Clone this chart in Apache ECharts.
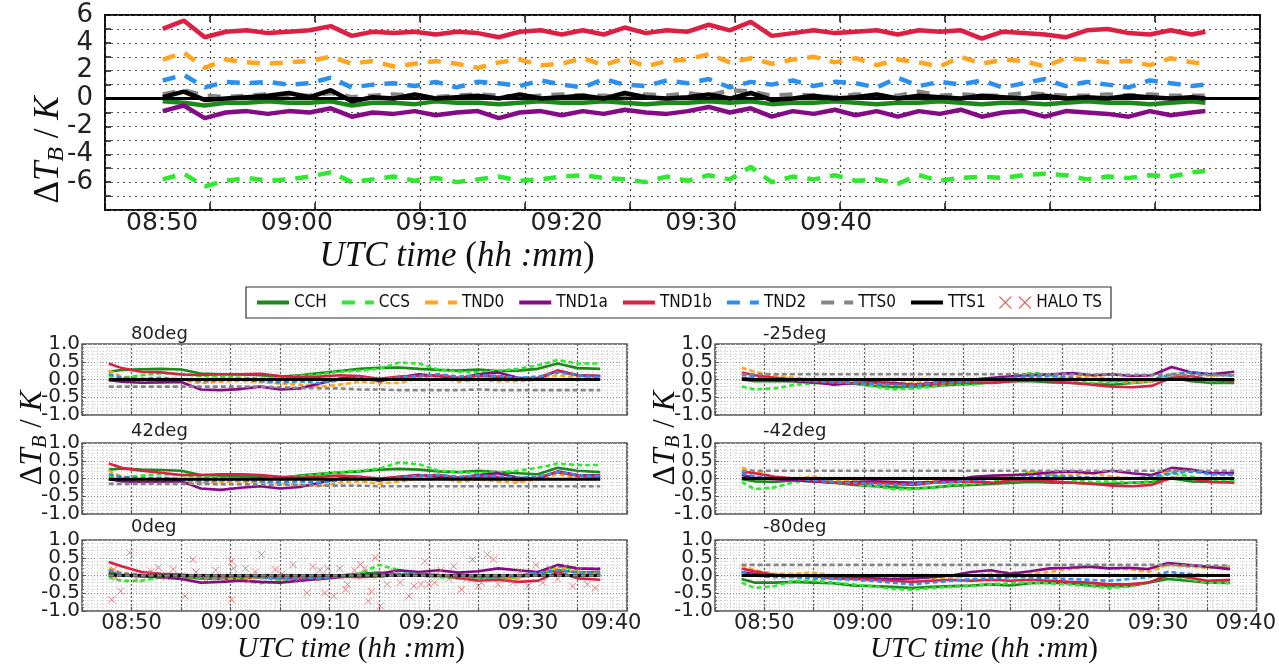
<!DOCTYPE html>
<html><head><meta charset="utf-8">
<script src="https://cdn.jsdelivr.net/npm/echarts@6/dist/echarts.min.js"></script>
<style>html,body{margin:0;padding:0;background:#fff}#c{width:1279px;height:668px}</style>
</head><body><div id="c"></div><script>
// ---------- DATA ----------
const NAMES = ['CCH','CCS','TND0','TND1a','TND1b','TND2','TTS0','TTS1'];
const TOP_LABELS = ['08:50','09:00','09:10','09:20','09:30','09:40'];
const LOW_LABELS = ['08:50','09:00','09:10','09:20','09:30','09:40'];
const PANEL_TITLES = ['80deg','42deg','0deg','-25deg','-42deg','-80deg'];

// top panel (minutes on tick axis)
const topTime = [5.5,7.5,9.5,11.5,13.5,15.5,17.5,19.5,21.5,23.5,25.5,27.5,29.5,31.5,33.5,35.5,37.5,39.5,41.5,43.5,45.5,47.5,49.5,51.5,53.5,55.5,57.5,59.5,61.5,63.5,65.5,67.5,69.5,71.5,73.5,75.5,77.5,79.5,81.5,83.5,85.5,87.5,89.5,91.5,93.5,95.5,97.5,99.5,101.5,103.5,104.8];
const top_CCH = [-0.2,-0.3,-0.5,-0.3,-0.3,-0.2,-0.3,-0.3,-0.2,-0.5, -0.3,-0.3,-0.4,-0.2,-0.3,-0.3,-0.4,-0.3,-0.2,-0.3, -0.3,-0.2,-0.3,-0.4,-0.3,-0.3,-0.2,-0.3,-0.2,-0.4, -0.3,-0.3,-0.2,-0.3,-0.4,-0.3,-0.3,-0.2,-0.3,-0.4, -0.3,-0.3,-0.4,-0.3,-0.2,-0.3,-0.3,-0.4,-0.3,-0.2,-0.3];
const top_CCS = [-5.8,-5.4,-6.3,-5.9,-5.7,-5.9,-5.8,-5.6,-5.3,-6.0, -5.8,-5.6,-5.9,-5.7,-6.0,-5.8,-5.6,-5.9,-5.8,-5.6, -5.5,-5.7,-5.8,-6.0,-5.6,-5.9,-5.5,-5.8,-4.9,-6.0, -5.6,-5.8,-5.5,-5.9,-5.8,-6.1,-5.5,-5.9,-5.7,-5.6, -5.7,-5.5,-5.4,-5.5,-5.8,-5.6,-5.7,-5.5,-5.6,-5.3,-5.2];
const top_TND0 = [2.8,3.3,2.2,2.8,2.6,2.5,2.6,2.7,3.0,2.5, 2.7,2.3,2.5,2.7,2.5,2.2,2.6,2.8,2.4,2.5, 2.9,2.4,2.9,2.3,2.7,2.8,3.2,2.6,2.9,2.5, 2.8,3.0,2.6,2.9,2.4,2.8,2.6,2.3,3.0,2.5, 2.8,2.7,2.3,2.9,2.8,2.6,2.7,2.4,2.9,2.6,2.5];
const top_TND1a = [-0.9,-0.5,-1.4,-1.0,-0.9,-1.1,-0.9,-1.0,-0.7,-1.3, -1.0,-1.1,-0.9,-1.2,-1.0,-0.9,-1.4,-1.0,-0.9,-1.2, -0.9,-1.1,-0.8,-1.0,-1.1,-0.9,-0.6,-1.0,-0.7,-1.3, -0.9,-1.1,-0.8,-1.2,-0.9,-1.3,-0.9,-1.1,-0.8,-1.3, -1.0,-0.9,-1.3,-0.9,-1.0,-1.1,-1.3,-0.9,-1.2,-1.0,-0.9];
const top_TND1b = [5.0,5.6,4.4,4.8,4.9,4.7,4.8,4.9,5.2,4.5, 4.8,4.7,4.8,4.6,4.8,4.7,4.4,4.8,4.9,4.6, 4.9,4.6,5.1,4.7,4.9,4.8,5.3,4.9,5.5,4.5, 4.7,4.9,4.7,4.8,4.9,4.6,4.9,4.8,4.9,4.3, 4.8,4.7,4.6,4.4,4.9,5.0,4.7,4.6,4.9,4.6,4.8];
const top_TND2 = [1.3,1.7,0.8,1.2,1.1,1.2,1.0,1.1,1.5,0.8, 1.0,1.1,0.9,1.2,0.8,1.2,1.1,0.9,1.3,1.0, 0.8,1.4,1.0,0.9,1.3,1.1,1.4,0.8,1.2,1.0, 1.3,0.9,1.2,1.1,0.8,1.5,0.9,1.2,1.0,1.3, 0.8,1.1,1.4,0.9,1.2,1.0,0.8,1.3,1.1,0.9,1.0];
const top_TTS0 = [0.3,0.6,0.2,0.1,0.2,0.3,0.2,0.2,0.4,0.1, 0.2,0.3,0.2,0.1,0.2,0.3,0.2,0.1,0.2,0.3, 0.2,0.2,0.1,0.3,0.2,0.4,0.2,0.6,0.5,0.2, 0.3,0.2,0.1,0.3,0.2,0.2,0.5,0.2,0.3,0.2, 0.2,0.4,0.3,0.2,0.2,0.3,0.2,0.3,0.2,0.2,0.2];
const top_TTS1 = [0.1,0.5,-0.1,0.0,0.1,0.2,0.4,0.1,0.6,-0.2, 0.1,0.0,0.3,0.0,0.1,0.2,0.0,0.3,0.0,0.1, 0.2,0.0,0.4,0.1,0.0,0.1,0.3,0.0,0.4,-0.1, 0.0,0.2,0.0,0.1,0.3,0.0,0.2,0.1,0.0,0.2, 0.1,0.0,0.2,0.0,0.1,0.0,0.2,0.1,0.0,0.1,0.0];

// lower panels (minutes after 08:50)
const lowTime = [-2.3,-1,1,3,5,7,9,11,13,15,17,19,21,23,25,27,29,31,33,35,37,39,41,43,45,47.3];

const CCH_80 = [0.22,0.27,0.29,0.30,0.28,0.17,0.15,0.14,0.12,0.08, 0.12,0.18,0.24,0.30,0.33,0.34,0.30,0.27,0.25,0.28, 0.24,0.25,0.30,0.45,0.32,0.30];
const CCS_80 = [0.10,0.05,0.12,0.18,0.15,0.10,0.08,0.05,0.02,0.05, 0.10,0.15,0.22,0.25,0.30,0.48,0.45,0.28,0.22,0.20, 0.25,0.30,0.40,0.55,0.45,0.45];
const TND0_80 = [0.25,0.08,-0.06,0.00,-0.02,-0.10,-0.06,-0.04,-0.07,-0.11, -0.15,-0.20,-0.15,-0.06,-0.10,-0.10,0.03,0.05,-0.06,0.00, -0.05,-0.05,0.00,0.12,0.05,0.02];
const TND1a_80 = [-0.02,-0.06,-0.09,-0.08,-0.07,-0.28,-0.30,-0.27,-0.20,-0.28, -0.25,-0.11,0.03,0.08,-0.05,0.06,0.15,0.10,0.03,0.15, 0.20,0.05,0.02,0.25,0.12,0.10];
const TND1b_80 = [0.45,0.32,0.22,0.20,0.14,0.13,0.15,0.15,0.16,0.10, 0.06,0.08,0.12,0.10,0.02,0.08,0.10,0.12,0.05,0.10, 0.08,0.02,0.05,0.25,0.12,0.10];
const TND2_80 = [0.15,0.05,0.02,0.05,0.00,-0.05,-0.02,0.00,-0.05,-0.08, -0.05,-0.10,-0.02,0.05,0.00,0.05,0.10,0.15,0.08,0.12, 0.10,0.05,0.08,0.20,0.12,0.05];
const TTS0_80 = [-0.20,-0.20,-0.20,-0.20,-0.20,-0.20,-0.20,-0.20,-0.20,-0.22, -0.24,-0.25,-0.25,-0.28,-0.28,-0.30,-0.30,-0.30,-0.30,-0.28, -0.30,-0.30,-0.30,-0.30,-0.30,-0.30];
const TTS1_80 = [0,0,0,0,0,0,0,0,0,0, 0,0,0,0,0,0,0,0,0,0, 0,0,0,0,0,0];

const CCH_42 = [0.25,0.28,0.25,0.24,0.22,0.10,0.08,0.06,0.05,0.02, 0.08,0.13,0.17,0.20,0.25,0.27,0.25,0.20,0.18,0.22, 0.18,0.15,0.12,0.30,0.22,0.18];
const CCS_42 = [0.05,0.02,0.08,0.12,0.10,0.05,0.02,0.00,-0.02,0.02, 0.06,0.12,0.18,0.22,0.28,0.45,0.40,0.22,0.18,0.15, 0.18,0.22,0.30,0.42,0.38,0.38];
const TND0_42 = [0.22,0.05,-0.08,-0.05,-0.05,-0.12,-0.10,-0.08,-0.10,-0.14, -0.18,-0.22,-0.12,-0.08,-0.15,-0.08,0.00,0.05,-0.10,-0.02, -0.08,-0.12,-0.02,0.12,0.02,0.00];
const TND1a_42 = [-0.02,-0.08,-0.10,-0.09,-0.08,-0.28,-0.32,-0.26,-0.22,-0.28, -0.24,-0.12,0.00,0.05,-0.06,0.05,0.10,0.05,0.02,0.10, 0.15,0.02,0.00,0.20,0.10,0.08];
const TND1b_42 = [0.42,0.30,0.22,0.16,0.10,0.10,0.12,0.12,0.10,0.05, 0.02,0.05,0.08,0.05,0.00,0.05,0.08,0.10,0.02,0.06, 0.04,-0.05,0.02,0.18,0.08,0.05];
const TND2_42 = [0.12,0.05,0.00,0.02,-0.02,-0.08,-0.05,-0.05,-0.08,-0.10, -0.08,-0.12,-0.05,0.02,-0.05,0.02,0.08,0.10,0.05,0.08, 0.06,0.02,0.05,0.18,0.10,0.05];
const TTS0_42 = [-0.15,-0.15,-0.15,-0.15,-0.15,-0.15,-0.16,-0.16,-0.17,-0.18, -0.18,-0.20,-0.20,-0.20,-0.22,-0.22,-0.22,-0.22,-0.22,-0.22, -0.22,-0.22,-0.22,-0.22,-0.22,-0.22];
const TTS1_42 = [-0.02,-0.02,-0.02,-0.02,-0.02,-0.02,-0.02,-0.02,-0.02,-0.02, -0.02,-0.02,-0.02,-0.02,-0.02,-0.02,-0.02,-0.02,-0.02,-0.02, -0.02,-0.02,-0.02,-0.02,-0.02,-0.02];

const CCH_0 = [0.10,0.02,-0.02,-0.05,-0.05,-0.08,-0.10,-0.08,-0.05,-0.08, -0.05,-0.02,0.00,0.05,0.08,0.02,0.00,-0.02,-0.05,-0.08, -0.05,-0.05,0.05,0.15,0.10,0.08];
const CCS_0 = [-0.05,-0.15,-0.15,-0.05,-0.02,-0.05,-0.08,-0.12,-0.22,-0.15, -0.08,-0.05,0.00,0.05,0.30,0.15,0.00,-0.05,-0.08,-0.12, -0.10,-0.05,0.10,0.25,0.18,0.20];
const TND0_0 = [0.20,0.08,0.00,-0.02,-0.05,-0.05,-0.08,-0.05,-0.08,-0.10, -0.08,-0.12,-0.05,-0.02,-0.05,0.05,0.02,-0.02,-0.05,-0.10, -0.12,-0.08,0.05,0.20,0.10,0.05];
const TND1a_0 = [0.05,0.00,-0.02,-0.05,-0.10,-0.20,-0.18,-0.15,-0.18,-0.20, -0.15,-0.10,-0.05,0.00,0.05,0.15,0.10,0.15,0.08,0.12, 0.20,0.15,0.10,0.30,0.20,0.18];
const TND1b_0 = [0.38,0.26,0.10,0.05,0.03,-0.02,-0.05,-0.02,-0.02,-0.06, -0.09,-0.06,-0.02,-0.05,-0.02,0.01,0.05,0.01,-0.07,-0.15, -0.12,-0.18,-0.15,0.10,-0.08,-0.12];
const TND2_0 = [0.15,0.05,0.02,0.00,-0.02,-0.05,-0.05,-0.02,-0.05,-0.08, -0.05,-0.08,-0.02,0.00,0.02,0.05,0.05,0.00,-0.02,-0.05, -0.05,0.00,0.08,0.15,0.08,0.05];
const TTS0_0 = [0.00,0.00,0.00,0.00,0.00,0.00,0.00,0.00,0.00,0.00, 0.00,0.00,0.00,0.00,0.00,0.00,0.00,0.00,0.00,0.00, 0.00,0.00,0.00,0.00,0.00,0.00];
const TTS1_0 = [0,0,0,0,0,0,0,0,0,0, 0,0,0,0,0,0,0,0,0,0, 0,0,0,0,0,0];

const CCH_m25 = [0.00,-0.05,-0.05,-0.05,-0.10,-0.10,-0.12,-0.18,-0.22,-0.20, -0.18,-0.15,-0.12,-0.08,-0.05,-0.05,-0.08,-0.10,-0.12,-0.15, -0.10,-0.05,0.05,-0.05,-0.10,-0.10];
const CCS_m25 = [-0.20,-0.28,-0.25,-0.15,-0.10,-0.05,-0.10,-0.20,-0.28,-0.25, -0.20,-0.12,-0.15,-0.05,0.05,0.20,0.10,-0.05,-0.10,-0.05, -0.10,-0.05,0.15,0.05,-0.05,-0.05];
const TND0_m25 = [0.33,0.22,0.10,0.05,-0.02,-0.05,-0.08,-0.10,-0.08,-0.10, -0.05,-0.08,-0.05,0.00,0.05,0.10,0.12,0.08,0.10,0.00, -0.08,-0.05,0.15,0.20,0.10,0.15];
const TND1a_m25 = [0.05,0.00,-0.02,-0.05,-0.08,-0.15,-0.10,-0.08,-0.10,-0.15, -0.10,-0.05,0.00,0.05,0.10,0.12,0.15,0.18,0.12,0.15, 0.10,0.12,0.35,0.20,0.15,0.22];
const TND1b_m25 = [0.20,0.12,0.05,0.00,-0.05,-0.08,-0.10,-0.10,-0.12,-0.15, -0.12,-0.10,-0.08,-0.10,-0.05,-0.02,-0.05,-0.10,-0.15,-0.20, -0.22,-0.18,0.05,0.10,-0.02,-0.05];
const TND2_m25 = [0.15,0.05,0.00,-0.02,-0.05,-0.08,-0.10,-0.12,-0.15,-0.18, -0.10,-0.08,-0.05,0.00,0.05,0.08,0.10,0.05,0.00,-0.05, -0.02,0.00,0.15,0.20,0.15,0.10];
const TTS0_m25 = [0.15,0.15,0.15,0.15,0.15,0.15,0.15,0.15,0.15,0.15, 0.15,0.15,0.15,0.15,0.15,0.15,0.15,0.15,0.14,0.14, 0.13,0.13,0.13,0.12,0.12,0.12];
const TTS1_m25 = [0,0,0,0,0,0,0,0,0,0, 0,0,0,0,0,0,0,0,0,0, 0,0,0,0,0,0];

const CCH_m42 = [-0.02,-0.08,-0.10,-0.05,-0.08,-0.12,-0.18,-0.22,-0.25,-0.28, -0.25,-0.20,-0.18,-0.15,-0.12,-0.10,-0.12,-0.12,-0.15,-0.15, -0.12,-0.10,0.00,-0.08,-0.10,-0.10];
const CCS_m42 = [-0.10,-0.30,-0.25,-0.10,-0.05,-0.10,-0.15,-0.22,-0.30,-0.30, -0.25,-0.18,-0.15,-0.10,0.05,0.20,0.10,-0.05,-0.10,-0.08, -0.12,-0.08,0.15,0.05,-0.05,-0.08];
const TND0_m42 = [0.30,0.20,0.05,0.00,0.05,-0.05,-0.08,-0.10,-0.10,-0.12, -0.08,-0.05,0.00,0.05,0.10,0.15,0.12,0.10,0.15,0.05, 0.00,0.05,0.20,0.22,0.15,0.18];
const TND1a_m42 = [0.10,0.02,-0.02,-0.05,-0.08,-0.12,-0.10,-0.08,-0.10,-0.12, -0.10,-0.05,0.05,0.08,0.10,0.12,0.18,0.20,0.15,0.22, 0.15,0.10,0.30,0.25,0.15,0.15];
const TND1b_m42 = [0.20,0.15,0.05,0.00,-0.05,-0.12,-0.15,-0.12,-0.15,-0.18, -0.12,-0.10,-0.08,-0.12,-0.05,-0.05,-0.08,-0.12,-0.15,-0.20, -0.22,-0.18,0.02,0.00,-0.10,-0.12];
const TND2_m42 = [0.15,0.05,0.00,0.00,-0.05,-0.10,-0.12,-0.15,-0.18,-0.15, -0.12,-0.10,-0.05,0.00,0.00,0.05,0.08,0.05,0.02,0.00, 0.00,0.05,0.15,0.20,0.12,0.10];
const TTS0_m42 = [0.22,0.22,0.22,0.22,0.22,0.22,0.22,0.22,0.22,0.22, 0.22,0.22,0.22,0.22,0.22,0.22,0.22,0.22,0.22,0.22, 0.22,0.22,0.22,0.22,0.22,0.22];
const TTS1_m42 = [0,0,0,0,0,0,0,0,0,0, 0,0,0,0,0,0,0,0,0,0, 0,0,0,0,0,0];

const CCH_m80 = [-0.10,-0.20,-0.20,-0.18,-0.20,-0.22,-0.28,-0.30,-0.32,-0.35, -0.32,-0.30,-0.28,-0.25,-0.28,-0.22,-0.20,-0.22,-0.28,-0.30, -0.30,-0.20,-0.10,-0.15,-0.20,-0.20];
const CCS_m80 = [-0.20,-0.35,-0.30,-0.15,-0.15,-0.20,-0.25,-0.30,-0.38,-0.40, -0.35,-0.32,-0.30,-0.25,-0.22,-0.20,-0.22,-0.25,-0.30,-0.35, -0.30,-0.20,0.00,-0.10,-0.20,-0.22];
const TND0_m80 = [0.30,0.15,0.05,0.05,0.08,0.00,-0.02,0.00,-0.05,-0.05, -0.08,-0.05,0.00,0.05,0.10,0.05,0.10,0.18,0.25,0.20, 0.18,0.10,0.30,0.25,0.22,0.25];
const TND1a_m80 = [0.10,0.05,0.00,-0.02,0.00,-0.05,-0.08,-0.08,-0.10,-0.08, -0.05,0.00,0.10,0.15,0.05,0.12,0.20,0.22,0.25,0.20, 0.22,0.18,0.35,0.30,0.25,0.18];
const TND1b_m80 = [0.20,0.12,0.02,0.00,-0.02,-0.08,-0.10,-0.12,-0.15,-0.18, -0.15,-0.12,-0.15,-0.12,-0.15,-0.12,-0.15,-0.18,-0.20,-0.25, -0.25,-0.20,0.00,-0.05,-0.15,-0.12];
const TND2_m80 = [0.10,0.00,-0.05,-0.05,-0.08,-0.10,-0.12,-0.15,-0.20,-0.25, -0.20,-0.15,-0.10,-0.08,-0.05,-0.05,-0.08,-0.10,-0.12,-0.15, -0.10,-0.05,0.10,0.05,0.00,0.00];
const TTS0_m80 = [0.30,0.30,0.30,0.30,0.30,0.30,0.30,0.30,0.30,0.30, 0.30,0.30,0.30,0.30,0.30,0.30,0.30,0.30,0.30,0.30, 0.30,0.30,0.30,0.28,0.28,0.28];
const TTS1_m80 = [0,0,0,0,0,0,0,0,0,0, 0,0,0,0,0,0,0,0,0,0, 0,0,0,0,0,0];

// HALO TS crosses (0deg panel)
const haloTime = [-2.0,-1.8,-1.6,-1.1,-0.2,0.5,1.5,2.0,2.7,3.5,4.2,5.4,6.2,6.5,7.5,8.5,9.2,10.1,10.1,10.3,11.5,11.8,12.5,13.1,13.8,14.5,15.2,16.3,16.8,17.7,18.3,19.0,19.5,19.8,20.4,21.0,21.6,21.8,22.5,23.1,23.5,23.9,24.2,24.6,25.1,25.8,26.5,27.1,28.0,28.5,29.2,29.6,30.0,30.6,31.2,32.0,32.5,33.3,33.8,34.4,35.0,35.3,35.9,36.5,37.0,37.8,38.5,39.2,40.0,40.8,41.5,42.2,43.0,43.8,44.5,45.2,46.0,46.8];
const haloValue = [-0.68,0.17,-0.07,-0.44,0.64,-0.10,0.05,0.12,0.22,-0.05,0.18,-0.58,0.45,0.10,-0.10,0.15,-0.05,-0.68,0.40,0.20,0.20,-0.15,0.10,0.59,-0.05,0.17,0.05,0.31,-0.10,-0.49,0.25,0.15,-0.49,0.20,-0.58,0.20,-0.39,-0.25,0.15,0.31,0.20,-0.72,-0.45,0.50,-0.86,-0.25,0.10,-0.20,-0.58,-0.30,-0.25,0.40,-0.25,-0.20,0.15,-0.10,0.26,-0.39,-0.10,0.45,-0.30,-0.20,0.59,0.45,-0.25,-0.10,-0.20,0.10,-0.30,0.30,-0.20,0.20,-0.10,0.25,-0.30,0.15,-0.25,-0.35];

const TOP = [top_CCH, top_CCS, top_TND0, top_TND1a, top_TND1b, top_TND2, top_TTS0, top_TTS1];
const PANEL_DATA = [
  [CCH_80, CCS_80, TND0_80, TND1a_80, TND1b_80, TND2_80, TTS0_80, TTS1_80],
  [CCH_42, CCS_42, TND0_42, TND1a_42, TND1b_42, TND2_42, TTS0_42, TTS1_42],
  [CCH_0, CCS_0, TND0_0, TND1a_0, TND1b_0, TND2_0, TTS0_0, TTS1_0],
  [CCH_m25, CCS_m25, TND0_m25, TND1a_m25, TND1b_m25, TND2_m25, TTS0_m25, TTS1_m25],
  [CCH_m42, CCS_m42, TND0_m42, TND1a_m42, TND1b_m42, TND2_m42, TTS0_m42, TTS1_m42],
  [CCH_m80, CCS_m80, TND0_m80, TND1a_m80, TND1b_m80, TND2_m80, TTS0_m80, TTS1_m80]
];

// ---------- STYLE ----------
const COLORS = ['#1b8a1b','#2fe82f','#ffa51f','#850a85','#dc1f42','#2b8ff0','#858585','#000000'];
const DASHED = [false,true,true,false,false,true,true,false];
const SANS = "'DejaVu Sans', sans-serif";
const COND = "'DejaVu Sans Condensed', 'DejaVu Sans', sans-serif";
const SERIF = "'Liberation Serif', 'DejaVu Serif', serif";

const PANEL_GRIDS = [
  {left:82, top:344}, {left:82, top:443}, {left:82, top:540},
  {left:715, top:344}, {left:715, top:443}, {left:715, top:540}
];

const grids = [{left:105, top:15, width:1155, height:195, show:true, borderColor:'#111', borderWidth:2, backgroundColor:'#fff'}];
PANEL_GRIDS.forEach(g => grids.push({left:g.left, top:g.top, width:g.left < 400 ? 545 : 546, height:71, show:true, borderColor:'#555', borderWidth:1.5, backgroundColor:'#fff'}));

const noLine = {show:false, onZero:false};
const xAxes = [
  {gridIndex:0, type:'value', min:0, max:110, interval:10, axisLine:noLine,
   axisTick:{inside:true, length:7, lineStyle:{color:'#111', width:1.5}}, axisLabel:{show:false},
   splitLine:{show:true, lineStyle:{color:'#444', width:1.2, type:[2,4]}}},
  {gridIndex:0, type:'value', position:'top', min:0, max:110, interval:10, axisLine:noLine,
   axisTick:{inside:true, length:7, lineStyle:{color:'#111', width:1.5}}, axisLabel:{show:false}, splitLine:{show:false}},
  {gridIndex:0, type:'value', position:'bottom', min:-4.23, max:81.45, axisLine:noLine, axisTick:{show:false}, splitLine:{show:false},
   axisLabel:{customValues:[0,10,20,30,40,50], formatter:v => TOP_LABELS[Math.round(v/10)], fontSize:25, color:'#222', margin:1, fontFamily:SANS}}
];
const yAxes = [
  {gridIndex:0, type:'value', position:'left', min:-8, max:6, interval:1, axisLine:noLine,
   axisTick:{inside:true, length:6, lineStyle:{color:'#111', width:1.5}},
   axisLabel:{interval:0, showMinLabel:true, showMaxLabel:true, formatter:v => (v % 2 === 0 && v > -8) ? String(v) : '', fontSize:26, color:'#222', margin:12, fontFamily:SANS},
   splitLine:{show:true, lineStyle:{color:'#555', width:1.2, type:[2,4]}}},
  {gridIndex:0, type:'value', position:'right', min:-8, max:6, interval:1, axisLine:noLine,
   axisTick:{inside:true, length:6, lineStyle:{color:'#111', width:1.5}}, axisLabel:{show:false}, splitLine:{show:false}}
];

const lowYLabel = (vals) => ({customValues:vals, showMinLabel:true, showMaxLabel:true, hideOverlap:false,
  formatter:v => v.toFixed(1), fontSize:20, color:'#222', margin:2, fontFamily:SANS});
const fineGrid = {show:true, interval:0, lineStyle:{color:'#d0d0d0', width:1, type:[1,2]}};

PANEL_GRIDS.forEach((g, p) => {
  const showLabels = (p === 2 || p === 5);
  const lastPos = p < 3 ? 48.4 : 48.9;
  // fine vertical grid (every half minute)
  xAxes.push({gridIndex:p + 1, type:'value', position:'bottom', min:-5, max:50, interval:0.5, axisLine:noLine,
    axisTick:{show:false}, axisLabel:{show:false}, splitLine:fineGrid});
  // main time axis (ticks + grid every 5 min)
  xAxes.push({gridIndex:p + 1, type:'value', position:'bottom', min:-5, max:50, interval:5, axisLine:noLine,
    axisTick:{inside:true, length:4, interval:0, lineStyle:{color:'#555'}},
    splitLine:{show:true, interval:0, lineStyle:{color:'#666', width:1.3, type:[2,2]}},
    axisLabel: showLabels ? {customValues:[0,10,20,30,40,lastPos], formatter:v => LOW_LABELS[Math.round(v/10)], fontSize:21, color:'#222', margin:2, fontFamily:SANS} : {show:false}
  });
  // fine horizontal grid (every 0.1 K)
  yAxes.push({gridIndex:p + 1, type:'value', position:'left', min:-1, max:1, interval:0.1, axisLine:noLine,
    axisTick:{inside:true, length:2, interval:0, lineStyle:{color:'#777'}}, axisLabel:{show:false}, splitLine:fineGrid});
  // primary y axis: ticks, grid, labels at -1, 0, 1
  yAxes.push({gridIndex:p + 1, type:'value', position:'left', min:-1, max:1, interval:0.5, axisLine:noLine,
    axisTick:{inside:true, length:4, lineStyle:{color:'#555'}},
    splitLine:{show:true, interval:0, lineStyle:{color:'#888', width:1, type:[1,2]}},
    axisLabel: lowYLabel([-1, 0, 1])
  });
  // secondary y axis: labels at -0.5, 0.5 only
  yAxes.push({gridIndex:p + 1, type:'value', position:'left', min:-1, max:1, interval:0.5, axisLine:noLine,
    axisTick:{show:false}, splitLine:{show:false},
    axisLabel: lowYLabel([-0.5, 0.5])
  });
});

// ---------- SERIES ----------
const series = [];
NAMES.forEach((name, i) => {
  const s = {
    type:'line', name, xAxisIndex:0, yAxisIndex:0, symbol:'none', silent:true,
    data: topTime.map((t, k) => [t, TOP[i][k]]),
    itemStyle:{color:COLORS[i]},
    lineStyle:{color:COLORS[i], width:4.5, type: DASHED[i] ? [13, 10] : 'solid'}
  };
  if (name === 'TTS1') {
    s.markLine = {silent:true, symbol:'none', label:{show:false}, animation:false,
      lineStyle:{color:'#000', width:3, type:'solid'}, data:[{yAxis:0}]};
  }
  series.push(s);
});

const xIdx = p => 4 + 2 * p;
const yIdx = p => 3 + 3 * p;

series.push({
  type:'scatter', name:'HALO TS', xAxisIndex:xIdx(2), yAxisIndex:yIdx(2), silent:true,
  symbol:'path://M0,0L10,10M10,0L0,10', symbolSize:7,
  itemStyle:{color:'rgba(0,0,0,0)', borderColor:'#e26a6a', borderWidth:1, opacity:0.85},
  data: haloTime.map((t, k) => [t, haloValue[k]])
});

PANEL_DATA.forEach((arrs, p) => {
  NAMES.forEach((name, i) => {
    series.push({
      type:'line', name, xAxisIndex:xIdx(p), yAxisIndex:yIdx(p), symbol:'none', silent:true,
      z: (p === 2 && name === 'TTS0') ? 4 : 2,
      data: lowTime.map((t, k) => [t, arrs[i][k]]),
      itemStyle:{color:COLORS[i]},
      lineStyle:{color:COLORS[i], width: name === 'TTS1' ? 3 : 2.6, type: DASHED[i] ? [5, 3] : 'solid'}
    });
  });
});

// ---------- TEXT ----------
const yTitle = (x, y, size) => ({
  type:'text', x, y, rotation:Math.PI / 2,
  style:{
    text:'{n|Δ}{i|T}{s|B}{n| / }{i|K}', align:'center', verticalAlign:'middle',
    rich:{
      n:{fontFamily:SERIF, fontSize:size, fill:'#111', verticalAlign:'middle'},
      i:{fontFamily:SERIF, fontSize:size, fontStyle:'italic', fill:'#111', verticalAlign:'middle'},
      s:{fontFamily:SERIF, fontSize:Math.round(size*0.68), fontStyle:'italic', fill:'#111', verticalAlign:'middle', padding:[Math.round(size*0.45),0,0,0]}
    }
  }
});
const xTitle = (x, y, size) => ({
  type:'text', x, y,
  style:{
    text:'{i|UTC time }{n|(}{i|hh :mm}{n|)}', align:'center', verticalAlign:'middle',
    rich:{
      n:{fontFamily:SERIF, fontSize:size, fill:'#111'},
      i:{fontFamily:SERIF, fontSize:size, fontStyle:'italic', fill:'#111'}
    }
  }
});
const TITLE_POS = [[131,334],[131,431],[131,527],[763,334],[763,431],[763,527]];
const graphics = [
  yTitle(49, 150, 35), xTitle(457, 257, 35),
  yTitle(33, 438, 31), yTitle(666, 438, 31),
  xTitle(351, 649, 29), xTitle(984, 649, 29)
];
PANEL_TITLES.forEach((t, p) => graphics.push({
  type:'text', x:TITLE_POS[p][0], y:TITLE_POS[p][1],
  style:{text:t, fontFamily:SANS, fontSize:18, fill:'#222', align:'left', verticalAlign:'middle'}
}));

const option = {
  backgroundColor:'#fff',
  animation:false,
  grid: grids,
  xAxis: xAxes,
  yAxis: yAxes,
  legend: {
    left:246, top:287, orient:'horizontal', padding:[7,9,7,9], itemGap:13, itemWidth:32, itemHeight:12,
    borderColor:'#333', borderWidth:1.2, selectedMode:false,
    itemStyle:{opacity:0},
    lineStyle:{width:4},
    textStyle:{fontFamily:COND, fontSize:17, color:'#111'},
    data: NAMES.concat([{name:'HALO TS', icon:'path://M0,0L8,8M8,0L0,8M13,0L21,8M21,0L13,8',
      itemStyle:{opacity:1, color:'rgba(0,0,0,0)', borderColor:'#e26a6a', borderWidth:1.2}}])
  },
  graphic: graphics,
  series
};
const chart = echarts.init(document.getElementById('c'));
chart.setOption(option);
</script></body></html>
